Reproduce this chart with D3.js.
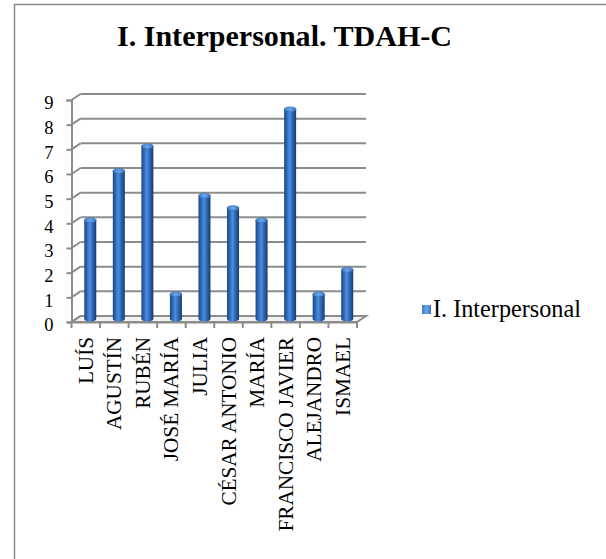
<!DOCTYPE html>
<html>
<head>
<meta charset="utf-8">
<script src="https://cdn.jsdelivr.net/npm/d3@7/dist/d3.min.js"></script>
<style>
  html, body { margin: 0; padding: 0; background: #fff; }
  svg { display: block; }
</style>
</head>
<body>
<svg id="chart" width="606" height="559"></svg>
<script>
// Scores per student
const categories = ["LUÍS", "AGUSTÍN", "RUBÉN", "JOSÉ MARÍA", "JULIA", "CÉSAR ANTONIO", "MARÍA", "FRANCISCO JAVIER", "ALEJANDRO", "ISMAEL"];
const values = [4, 6, 7, 1, 5, 4.5, 4, 8.5, 1, 2];
const yTicks = [0, 1, 2, 3, 4, 5, 6, 7, 8, 9];
const seriesName = "I. Interpersonal";
const chartTitle = "I. Interpersonal. TDAH-C";

const SERIF = '"Liberation Serif"';
const svg = d3.select("#chart").style("font-family", SERIF);

// outer chart frame (continues past the right/bottom edges)
svg.append("rect")
  .attr("x", 14.5).attr("y", 4.5)
  .attr("width", 800).attr("height", 800)
  .attr("fill", "#fff")
  .attr("stroke", "#8a8a8a").attr("stroke-width", 1.5);

// shrink/grow font so the text spans a given width
function fitWidth(sel, target) {
  const node = sel.node();
  const fs = parseFloat(sel.style("font-size"));
  const w = node.getComputedTextLength();
  if (w > 0) sel.style("font-size", (fs * target / w).toFixed(2) + "px");
  return sel;
}

const x0 = 71.5, x1 = 357;
const dx = 9, dy = -6;   // depth offset of the back wall

const x = d3.scaleBand().domain(categories).range([x0, x1]).padding(0);
const y = d3.scaleLinear().domain([0, 9]).range([322, 100]);

const grid = svg.append("g")
  .attr("stroke", "#8c8c8c").attr("stroke-width", 2).attr("fill", "none");

// floor
grid.append("path")
  .attr("d", `M${x0},${y(0)}L${x1},${y(0)}L${x1 + dx},${y(0) + dy}L${x0 + dx},${y(0) + dy}Z`)
  .attr("fill", "#f2f2f2");

// back wall gridlines + side wall slants
yTicks.forEach(t => {
  grid.append("line")
    .attr("x1", x0 + dx).attr("x2", x1 + dx)
    .attr("y1", y(t) + dy).attr("y2", y(t) + dy);
  grid.append("line")
    .attr("x1", x0).attr("x2", x0 + dx)
    .attr("y1", y(t)).attr("y2", y(t) + dy);
});

// value axis
const yAxis = d3.axisLeft(y).tickValues(yTicks).tickSize(5).tickPadding(13).tickFormat(d3.format("d"));
const gy = svg.append("g").attr("transform", `translate(${x0},0)`).call(yAxis)
  .attr("font-family", null).attr("font-size", null);
gy.select(".domain").attr("stroke", "#8c8c8c").attr("stroke-width", 2);
gy.selectAll(".tick line").attr("stroke", "#8c8c8c").attr("stroke-width", 2);
gy.selectAll(".tick text")
  .style("font-family", SERIF)
  .style("font-size", "18.5px").attr("fill", "#000")
  .attr("dy", "0.48em");

// category axis
const xAxis = d3.axisBottom(x).tickSize(0).tickPadding(0);
const gx = svg.append("g").attr("transform", `translate(0,${y(0)})`).call(xAxis)
  .attr("font-family", null).attr("font-size", null);
gx.select(".domain").attr("stroke", "#8c8c8c").attr("stroke-width", 2);
gx.selectAll(".tick text")
  .style("font-family", SERIF)
  .style("font-size", "21.2px").attr("fill", "#000")
  .attr("text-anchor", "end")
  .attr("dy", 0)
  .attr("transform", "translate(7,15) rotate(-90)");
// category boundary ticks
const bounds = categories.map(c => x(c)).concat([x1]);
svg.append("g").selectAll("line").data(bounds).join("line")
  .attr("x1", d => d).attr("x2", d => d)
  .attr("y1", y(0)).attr("y2", y(0) + 6)
  .attr("stroke", "#8c8c8c").attr("stroke-width", 2);

// cylinder shading
const defs = svg.append("defs");
const grad = defs.append("linearGradient").attr("id", "cyl").attr("x1", "0%").attr("x2", "100%");
[["0%", "#1b4580"], ["30%", "#3574c4"], ["45%", "#4d8fde"], ["70%", "#2e66b2"], ["100%", "#173b6c"]]
  .forEach(([o, c]) => grad.append("stop").attr("offset", o).attr("stop-color", c));
const topGrad = defs.append("linearGradient").attr("id", "cylTop").attr("x1", "0%").attr("x2", "100%");
[["0%", "#3d78c4"], ["50%", "#6aa4ea"], ["100%", "#3a72bc"]]
  .forEach(([o, c]) => topGrad.append("stop").attr("offset", o).attr("stop-color", c));

const bw = 12, ry = 2.5;
const bars = svg.append("g").selectAll("g").data(values).join("g");
bars.each(function (v, i) {
  const g = d3.select(this);
  const cx = x(categories[i]) + x.bandwidth() / 2 + dx / 2;
  const yb = y(0) + dy / 2;
  const yt = y(v) + dy / 2;
  g.append("path")
    .attr("d", `M${cx - bw / 2},${yt}L${cx - bw / 2},${yb}A${bw / 2},${ry} 0 0 0 ${cx + bw / 2},${yb}L${cx + bw / 2},${yt}Z`)
    .attr("fill", "url(#cyl)");
  g.append("ellipse")
    .attr("cx", cx).attr("cy", yt).attr("rx", bw / 2).attr("ry", ry)
    .attr("fill", "url(#cylTop)").attr("stroke", "#2d62a8").attr("stroke-width", 0.5);
});

// title
const title = svg.append("text")
  .attr("x", 284.5).attr("y", 46)
  .attr("text-anchor", "middle")
  .style("font-family", SERIF)
  .style("font-weight", "bold").style("font-size", "29px")
  .text(chartTitle);
fitWidth(title, 335);

// legend
svg.append("rect")
  .attr("x", 422).attr("y", 305).attr("width", 9).attr("height", 9)
  .attr("fill", "url(#cylTop)");
const leg = svg.append("text")
  .attr("x", 433).attr("y", 317)
  .style("font-family", SERIF)
  .style("font-size", "19px")
  .text(seriesName);
fitWidth(leg, 148);
</script>
</body>
</html>
